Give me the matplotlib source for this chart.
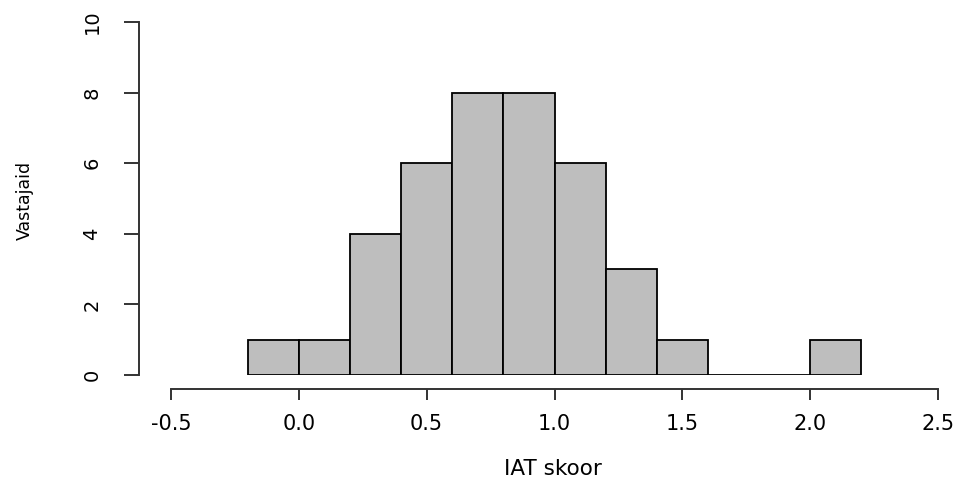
import matplotlib.pyplot as plt
import numpy as np

plt.rcParams["font.family"] = ["DejaVu Sans"]

# histogram of IAT scores (bin edges and counts)
bin_edges = [-0.2, 0.0, 0.2, 0.4, 0.6, 0.8, 1.0, 1.2, 1.4, 1.6, 1.8, 2.0, 2.2]
counts = [1, 1, 4, 6, 8, 8, 6, 3, 1, 0, 0, 1]
x_ticks = [-0.5, 0.0, 0.5, 1.0, 1.5, 2.0, 2.5]
x_tick_labels = ["-0.5", "0.0", "0.5", "1.0", "1.5", "2.0", "2.5"]
y_ticks = [0, 2, 4, 6, 8, 10]

W, H = 965, 484
fig = plt.figure(figsize=(W / 100, H / 100), dpi=100)
ax = fig.add_axes([171 / W, (H - 375) / H, 767 / W, 353 / H])

edges = np.array(bin_edges)
ax.bar(
    edges[:-1],
    counts,
    width=np.diff(edges),
    align="edge",
    color="#BEBEBE",
    edgecolor="black",
    linewidth=1.3,
    zorder=2,
)

ax.set_xlim(-0.5, 2.5)
ax.set_ylim(0, 10)

axis_color = "#333333"
for side in ["top", "right"]:
    ax.spines[side].set_visible(False)
ax.spines["left"].set_position(("outward", 32 * 0.72))
ax.spines["bottom"].set_position(("outward", 14 * 0.72))
ax.spines["left"].set_bounds(0, 10)
ax.spines["bottom"].set_bounds(-0.5, 2.5)
for side in ["left", "bottom"]:
    ax.spines[side].set_color(axis_color)
    ax.spines[side].set_linewidth(1.4)

ax.set_xticks(x_ticks)
ax.set_xticklabels(x_tick_labels)
ax.set_yticks(y_ticks)
ax.set_yticklabels([str(v) for v in y_ticks], rotation=90, va="center")
ax.tick_params(axis="x", length=8, width=1.4, color=axis_color, pad=10, labelsize=15)
ax.tick_params(axis="y", length=11, width=1.4, color=axis_color, pad=16, labelsize=14)

fig.text(553 / W, 1 - 469 / H, "IAT skoor", ha="center", va="center", fontsize=15.5)
fig.text(25 / W, 1 - 200 / H, "Vastajaid", ha="center", va="center", rotation=90, fontsize=12.5)

fig.savefig("out.png", dpi=100)
